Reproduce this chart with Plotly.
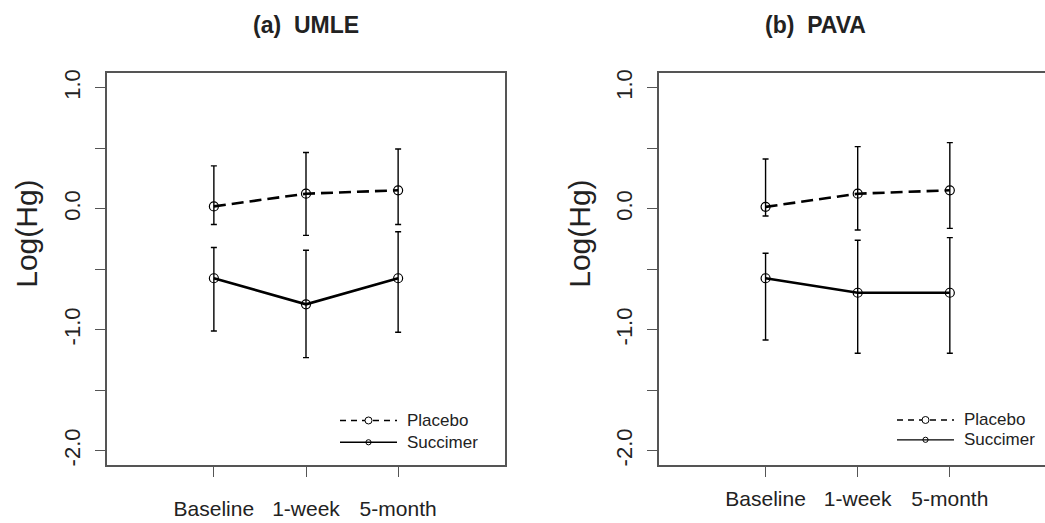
import plotly.graph_objects as go
from plotly.subplots import make_subplots

# Visits and mean log mercury with interval limits
visits = ["Baseline", "1-week", "5-month"]
visit_pos = [1, 2, 3]

# (a) UMLE
placebo_a = [0.02, 0.125, 0.153]
placebo_a_lo = [-0.13, -0.22, -0.13]
placebo_a_hi = [0.355, 0.465, 0.494]
succimer_a = [-0.574, -0.79, -0.574]
succimer_a_lo = [-1.01, -1.23, -1.02]
succimer_a_hi = [-0.32, -0.342, -0.19]

# (b) PAVA
placebo_b = [0.016, 0.125, 0.153]
placebo_b_lo = [-0.06, -0.175, -0.162]
placebo_b_hi = [0.412, 0.514, 0.547]
succimer_b = [-0.574, -0.694, -0.694]
succimer_b_lo = [-1.085, -1.194, -1.194]
succimer_b_hi = [-0.367, -0.26, -0.238]

y_ticks = [1.0, 0.5, 0.0, -0.5, -1.0, -1.5, -2.0]
y_tick_text = ["1.0", "", "0.0", "", "-1.0", "", "-2.0"]

W, H = 1045, 523
FONT = "Liberation Sans, Arial, sans-serif"
INK = "#222222"
AXIS = "#555555"

fig = go.Figure()


def add_panel(fig, xa, ya, pl, pl_lo, pl_hi, su, su_lo, su_hi):
    for vals, lo, hi, dash in [(pl, pl_lo, pl_hi, "12px,6px"), (su, su_lo, su_hi, "solid")]:
        fig.add_trace(go.Scatter(
            x=visit_pos, y=vals, mode="lines+markers",
            xaxis=xa, yaxis=ya, showlegend=False,
            line=dict(color="black", width=2.6, dash=dash),
            marker=dict(symbol="circle-open", size=9, color="black", line=dict(width=1.2)),
            error_y=dict(type="data", symmetric=False,
                         array=[h - v for h, v in zip(hi, vals)],
                         arrayminus=[v - l for v, l in zip(vals, lo)],
                         color="black", thickness=1.4, width=3),
        ))


add_panel(fig, "x", "y", placebo_a, placebo_a_lo, placebo_a_hi, succimer_a, succimer_a_lo, succimer_a_hi)
add_panel(fig, "x2", "y2", placebo_b, placebo_b_lo, placebo_b_hi, succimer_b, succimer_b_lo, succimer_b_hi)

# plot regions in pixels
left_a, right_a = 107, 505
left_b = 658.7
top, bottom = 70, 465.7
px_per_unit = (right_a - left_a) / 4.32
xr_b_end = -0.16 + (W - left_b) / px_per_unit

ydom = [1 - bottom / H, 1 - top / H]

common_x = dict(tickmode="array", tickvals=visit_pos, ticktext=visits,
                ticks="outside", ticklen=10, tickwidth=1.3, tickcolor=AXIS,
                showline=True, linecolor=AXIS, linewidth=1.6, mirror=True,
                showgrid=False, zeroline=False,
                tickfont=dict(family=FONT, size=21, color=INK))
common_y = dict(range=[-2.12, 1.12], domain=ydom,
                tickmode="array", tickvals=y_ticks, ticktext=y_tick_text,
                tickangle=-90, ticks="outside", ticklen=10, tickwidth=1.3, tickcolor=AXIS,
                showline=True, linecolor=AXIS, linewidth=1.6,
                showgrid=False, zeroline=False,
                tickfont=dict(family=FONT, size=22, color=INK))

fig.update_layout(
    width=W, height=H, margin=dict(l=0, r=0, t=0, b=0),
    paper_bgcolor="white", plot_bgcolor="white",
    xaxis=dict(domain=[left_a / W, right_a / W], range=[-0.16, 4.16], anchor="y",
               ticklabelstandoff=14, **common_x),
    yaxis=dict(anchor="x", mirror=True, ticklabelstandoff=6, **common_y),
    xaxis2=dict(domain=[left_b / W, 1.0], range=[-0.16, xr_b_end], anchor="y2",
                ticklabelstandoff=4, **common_x),
    yaxis2=dict(anchor="x2", mirror=False, ticklabelstandoff=6, **common_y),
)

# titles and y-axis labels
annotations = [
    dict(text="<b>(a)  UMLE</b>", x=306 / W, y=1 - 21 / H, size=23),
    dict(text="<b>(b)  PAVA</b>", x=816 / W, y=1 - 21 / H, size=23),
]
for a in annotations:
    fig.add_annotation(text=a["text"], x=a["x"], y=a["y"], xref="paper", yref="paper",
                       showarrow=False, xanchor="center", yanchor="middle",
                       font=dict(family=FONT, size=a["size"], color=INK))
for xc in [27, 580]:
    fig.add_annotation(text="Log(Hg)", x=xc / W, y=1 - 232 / H, xref="paper", yref="paper",
                       showarrow=False, textangle=-90, xanchor="center", yanchor="middle",
                       font=dict(family=FONT, size=30, color=INK))

# legends (line sample, symbol, label) for each panel
legend_layout = [
    # x0, x1, text_x, y_placebo, y_succimer
    (340, 397, 405, 420.5, 442.5),
    (897, 954, 962, 420, 440),
]
for x0, x1, tx, yp, ys in legend_layout:
    xm = (x0 + x1) / 2
    for yy, dash, label, r, fill in [(yp, "6px,5px", "Placebo", 3.5, "white"),
                                     (ys, "solid", "Succimer", 2.6, "rgba(0,0,0,0)")]:
        fig.add_shape(type="line", xref="paper", yref="paper",
                      x0=x0 / W, x1=x1 / W, y0=1 - yy / H, y1=1 - yy / H,
                      line=dict(color="black", width=1.3, dash=dash))
        fig.add_shape(type="circle", xref="paper", yref="paper",
                      xsizemode="pixel", ysizemode="pixel",
                      xanchor=xm / W, yanchor=1 - yy / H,
                      x0=-r, x1=r, y0=-r, y1=r,
                      line=dict(color="black", width=1), fillcolor=fill)
        fig.add_annotation(text=label, x=tx / W, y=1 - yy / H, xref="paper", yref="paper",
                           showarrow=False, xanchor="left", yanchor="middle",
                           font=dict(family=FONT, size=17, color=INK))

fig.write_html("out.html")
